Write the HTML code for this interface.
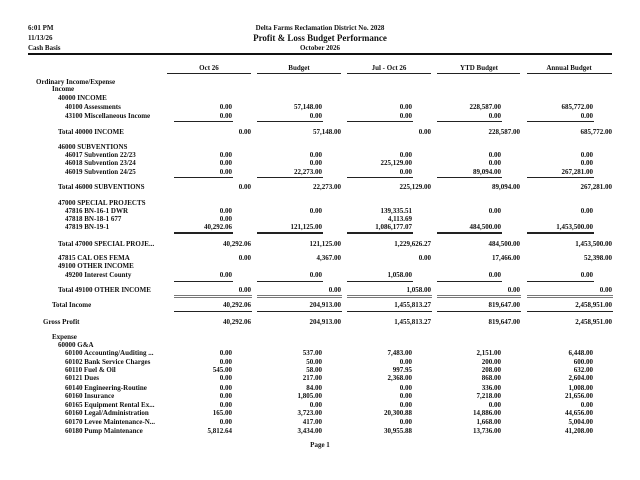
<!DOCTYPE html>
<html><head><meta charset="utf-8"><style>
body{margin:0;width:640px;height:480px;background:#fff;position:relative;overflow:hidden;font-family:"Liberation Serif",serif;font-weight:bold;color:#111}
div{position:absolute;font-size:7px;line-height:8px;white-space:nowrap}
.c1{right:408px}.c2{right:318px}.c3{right:228px}.c4{right:139px}.c5{right:47px}
.t1{right:389px}.t2{right:299px}.t3{right:209px}.t4{right:120px}.t5{right:28px}
.ln{height:0;border-top:1px solid #222}
.dl{height:1px;border-top:1px solid #777;border-bottom:1px solid #777}
.h{width:84px;text-align:center}
</style></head><body>
<div style="left:28px;top:24px">6:01 PM</div>
<div style="left:28px;top:34px">11/13/26</div>
<div style="left:28px;top:44px">Cash Basis</div>
<div style="left:0;width:640px;text-align:center;top:24px">Delta Farms Reclamation District No. 2028</div>
<div style="left:0;width:640px;text-align:center;top:33px;font-size:9px;line-height:10px">Profit &amp; Loss Budget Performance</div>
<div style="left:0;width:640px;text-align:center;top:44px">October 2026</div>
<div style="left:28px;top:53px;width:584px;height:2px;background:#111"></div>

<div class="h" style="left:167px;top:64px">Oct 26</div>
<div class="h" style="left:257px;top:64px">Budget</div>
<div class="h" style="left:347px;top:64px">Jul - Oct 26</div>
<div class="h" style="left:437px;top:64px">YTD Budget</div>
<div class="h" style="left:527px;top:64px">Annual Budget</div>
<div class="ln" style="left:167px;top:73px;width:84px"></div>
<div class="ln" style="left:257px;top:73px;width:84px"></div>
<div class="ln" style="left:347px;top:73px;width:84px"></div>
<div class="ln" style="left:437px;top:73px;width:83px"></div>
<div class="ln" style="left:527px;top:73px;width:85px"></div>

<div style="left:36px;top:78px">Ordinary Income/Expense</div>
<div style="left:52px;top:85px">Income</div>
<div style="left:58px;top:94px">40000 INCOME</div>
<div style="left:65px;top:103px">40100 Assessments</div>
<div class="c1" style="top:103px">0.00</div><div class="c2" style="top:103px">57,148.00</div><div class="c3" style="top:103px">0.00</div><div class="c4" style="top:103px">228,587.00</div><div class="c5" style="top:103px">685,772.00</div>
<div style="left:65px;top:112px">43100 Miscellaneous Income</div>
<div class="c1" style="top:112px">0.00</div><div class="c2" style="top:112px">0.00</div><div class="c3" style="top:112px">0.00</div><div class="c4" style="top:112px">0.00</div><div class="c5" style="top:112px">0.00</div>
<div class="ln" style="left:174px;top:121px;width:59px"></div><div class="ln" style="left:257px;top:121px;width:66px"></div><div class="ln" style="left:347px;top:121px;width:66px"></div><div class="ln" style="left:437px;top:121px;width:65px"></div><div class="ln" style="left:527px;top:121px;width:67px"></div>
<div style="left:58px;top:128px">Total 40000 INCOME</div>
<div class="t1" style="top:128px">0.00</div><div class="t2" style="top:128px">57,148.00</div><div class="t3" style="top:128px">0.00</div><div class="t4" style="top:128px">228,587.00</div><div class="t5" style="top:128px">685,772.00</div>

<div style="left:58px;top:143px">46000 SUBVENTIONS</div>
<div style="left:65px;top:151px">46017 Subvention 22/23</div>
<div class="c1" style="top:151px">0.00</div><div class="c2" style="top:151px">0.00</div><div class="c3" style="top:151px">0.00</div><div class="c4" style="top:151px">0.00</div><div class="c5" style="top:151px">0.00</div>
<div style="left:65px;top:159px">46018 Subvention 23/24</div>
<div class="c1" style="top:159px">0.00</div><div class="c2" style="top:159px">0.00</div><div class="c3" style="top:159px">225,129.00</div><div class="c4" style="top:159px">0.00</div><div class="c5" style="top:159px">0.00</div>
<div style="left:65px;top:168px">46019 Subvention 24/25</div>
<div class="c1" style="top:168px">0.00</div><div class="c2" style="top:168px">22,273.00</div><div class="c3" style="top:168px">0.00</div><div class="c4" style="top:168px">89,094.00</div><div class="c5" style="top:168px">267,281.00</div>
<div class="ln" style="left:174px;top:177px;width:59px"></div><div class="ln" style="left:257px;top:177px;width:66px"></div><div class="ln" style="left:347px;top:177px;width:66px"></div><div class="ln" style="left:437px;top:177px;width:65px"></div><div class="ln" style="left:527px;top:177px;width:67px"></div>
<div style="left:58px;top:183px">Total 46000 SUBVENTIONS</div>
<div class="t1" style="top:183px">0.00</div><div class="t2" style="top:183px">22,273.00</div><div class="t3" style="top:183px">225,129.00</div><div class="t4" style="top:183px">89,094.00</div><div class="t5" style="top:183px">267,281.00</div>

<div style="left:58px;top:199px">47000 SPECIAL PROJECTS</div>
<div style="left:65px;top:207px">47816 BN-16-1 DWR</div>
<div class="c1" style="top:207px">0.00</div><div class="c2" style="top:207px">0.00</div><div class="c3" style="top:207px">139,335.51</div><div class="c4" style="top:207px">0.00</div><div class="c5" style="top:207px">0.00</div>
<div style="left:65px;top:215px">47818 BN-18-1 677</div>
<div class="c1" style="top:215px">0.00</div><div class="c3" style="top:215px">4,113.69</div>
<div style="left:65px;top:223px">47819 BN-19-1</div>
<div class="c1" style="top:223px">40,292.06</div><div class="c2" style="top:223px">121,125.00</div><div class="c3" style="top:223px">1,086,177.07</div><div class="c4" style="top:223px">484,500.00</div><div class="c5" style="top:223px">1,453,500.00</div>
<div class="ln" style="left:174px;top:232px;width:59px;border-top-width:2px"></div><div class="ln" style="left:257px;top:232px;width:66px;border-top-width:2px"></div><div class="ln" style="left:347px;top:232px;width:66px;border-top-width:2px"></div><div class="ln" style="left:437px;top:232px;width:65px;border-top-width:2px"></div><div class="ln" style="left:527px;top:232px;width:67px;border-top-width:2px"></div>
<div style="left:58px;top:240px">Total 47000 SPECIAL PROJE...</div>
<div class="t1" style="top:240px">40,292.06</div><div class="t2" style="top:240px">121,125.00</div><div class="t3" style="top:240px">1,229,626.27</div><div class="t4" style="top:240px">484,500.00</div><div class="t5" style="top:240px">1,453,500.00</div>

<div style="left:58px;top:254px">47815 CAL OES FEMA</div>
<div class="t1" style="top:254px">0.00</div><div class="t2" style="top:254px">4,367.00</div><div class="t3" style="top:254px">0.00</div><div class="t4" style="top:254px">17,466.00</div><div class="t5" style="top:254px">52,398.00</div>
<div style="left:58px;top:262px">49100 OTHER INCOME</div>
<div style="left:65px;top:271px">49200 Interest County</div>
<div class="c1" style="top:271px">0.00</div><div class="c2" style="top:271px">0.00</div><div class="c3" style="top:271px">1,058.00</div><div class="c4" style="top:271px">0.00</div><div class="c5" style="top:271px">0.00</div>
<div class="ln" style="left:174px;top:281px;width:59px"></div><div class="ln" style="left:257px;top:281px;width:66px"></div><div class="ln" style="left:347px;top:281px;width:66px"></div><div class="ln" style="left:437px;top:281px;width:65px"></div><div class="ln" style="left:527px;top:281px;width:67px"></div>
<div style="left:58px;top:286px">Total 49100 OTHER INCOME</div>
<div class="t1" style="top:286px">0.00</div><div class="t2" style="top:286px">0.00</div><div class="t3" style="top:286px">1,058.00</div><div class="t4" style="top:286px">0.00</div><div class="t5" style="top:286px">0.00</div>
<div class="dl" style="left:174px;top:295px;width:78px"></div><div class="dl" style="left:257px;top:295px;width:85px"></div><div class="dl" style="left:347px;top:295px;width:85px"></div><div class="dl" style="left:437px;top:295px;width:84px"></div><div class="dl" style="left:527px;top:295px;width:86px"></div>

<div style="left:52px;top:301px">Total Income</div>
<div class="t1" style="top:301px">40,292.06</div><div class="t2" style="top:301px">204,913.00</div><div class="t3" style="top:301px">1,455,813.27</div><div class="t4" style="top:301px">819,647.00</div><div class="t5" style="top:301px">2,458,951.00</div>
<div class="ln" style="left:174px;top:311px;width:78px"></div><div class="ln" style="left:257px;top:311px;width:85px"></div><div class="ln" style="left:347px;top:311px;width:85px"></div><div class="ln" style="left:437px;top:311px;width:84px"></div><div class="ln" style="left:527px;top:311px;width:86px"></div>
<div style="left:43px;top:318px">Gross Profit</div>
<div class="t1" style="top:318px">40,292.06</div><div class="t2" style="top:318px">204,913.00</div><div class="t3" style="top:318px">1,455,813.27</div><div class="t4" style="top:318px">819,647.00</div><div class="t5" style="top:318px">2,458,951.00</div>

<div style="left:52px;top:333px">Expense</div>
<div style="left:58px;top:341px">60000 G&amp;A</div>
<div style="left:65px;top:349px">60100 Accounting/Auditing ...</div>
<div class="c1" style="top:349px">0.00</div><div class="c2" style="top:349px">537.00</div><div class="c3" style="top:349px">7,483.00</div><div class="c4" style="top:349px">2,151.00</div><div class="c5" style="top:349px">6,448.00</div>
<div style="left:65px;top:358px">60102 Bank Service Charges</div>
<div class="c1" style="top:358px">0.00</div><div class="c2" style="top:358px">50.00</div><div class="c3" style="top:358px">0.00</div><div class="c4" style="top:358px">200.00</div><div class="c5" style="top:358px">600.00</div>
<div style="left:65px;top:366px">60110 Fuel &amp; Oil</div>
<div class="c1" style="top:366px">545.00</div><div class="c2" style="top:366px">58.00</div><div class="c3" style="top:366px">997.95</div><div class="c4" style="top:366px">208.00</div><div class="c5" style="top:366px">632.00</div>
<div style="left:65px;top:374px">60121 Dues</div>
<div class="c1" style="top:374px">0.00</div><div class="c2" style="top:374px">217.00</div><div class="c3" style="top:374px">2,368.00</div><div class="c4" style="top:374px">868.00</div><div class="c5" style="top:374px">2,604.00</div>
<div style="left:65px;top:384px">60140 Engineering-Routine</div>
<div class="c1" style="top:384px">0.00</div><div class="c2" style="top:384px">84.00</div><div class="c3" style="top:384px">0.00</div><div class="c4" style="top:384px">336.00</div><div class="c5" style="top:384px">1,008.00</div>
<div style="left:65px;top:392px">60160 Insurance</div>
<div class="c1" style="top:392px">0.00</div><div class="c2" style="top:392px">1,805.00</div><div class="c3" style="top:392px">0.00</div><div class="c4" style="top:392px">7,218.00</div><div class="c5" style="top:392px">21,656.00</div>
<div style="left:65px;top:401px">60165 Equipment Rental Ex...</div>
<div class="c1" style="top:401px">0.00</div><div class="c2" style="top:401px">0.00</div><div class="c3" style="top:401px">0.00</div><div class="c4" style="top:401px">0.00</div><div class="c5" style="top:401px">0.00</div>
<div style="left:65px;top:409px">60160 Legal/Administration</div>
<div class="c1" style="top:409px">165.00</div><div class="c2" style="top:409px">3,723.00</div><div class="c3" style="top:409px">20,300.88</div><div class="c4" style="top:409px">14,886.00</div><div class="c5" style="top:409px">44,656.00</div>
<div style="left:65px;top:418px">60170 Levee Maintenance-N...</div>
<div class="c1" style="top:418px">0.00</div><div class="c2" style="top:418px">417.00</div><div class="c3" style="top:418px">0.00</div><div class="c4" style="top:418px">1,668.00</div><div class="c5" style="top:418px">5,004.00</div>
<div style="left:65px;top:427px">60180 Pump Maintenance</div>
<div class="c1" style="top:427px">5,812.64</div><div class="c2" style="top:427px">3,434.00</div><div class="c3" style="top:427px">30,955.88</div><div class="c4" style="top:427px">13,736.00</div><div class="c5" style="top:427px">41,208.00</div>

<div style="left:0;width:640px;text-align:center;top:441px">Page 1</div>
</body></html>
